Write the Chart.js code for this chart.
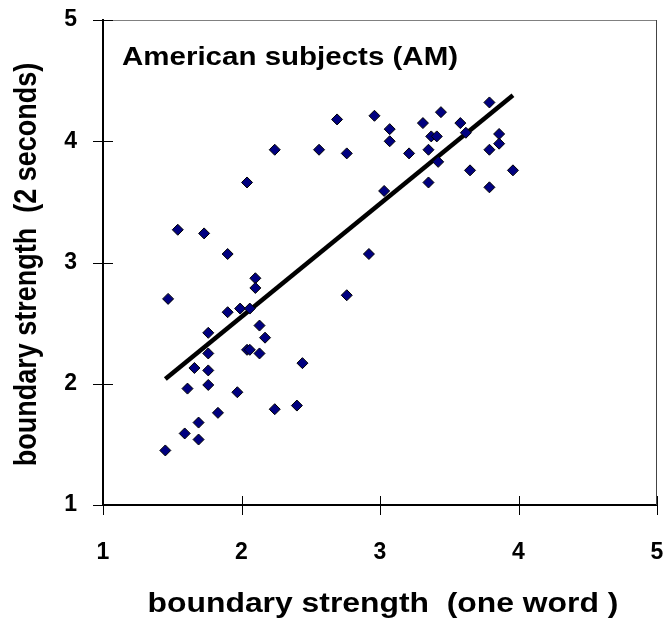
<!DOCTYPE html>
<html>
<head>
<meta charset="utf-8">
<script src="https://cdn.jsdelivr.net/npm/chart.js@4/dist/chart.umd.min.js"></script>
<style>
  html, body { margin: 0; padding: 0; background: #fff; }
  #wrap { width: 670px; height: 628px; }
</style>
</head>
<body>
<div id="wrap"><canvas id="grafico" width="670" height="628"></canvas></div>
<script>
// boundary strength per item: one-word condition (x) vs 2-second condition (y)
const fuerzaUnaPalabra = [
  1.45, 1.47, 1.54, 1.59, 1.61, 1.66, 1.69, 1.69, 1.73, 1.76,
  1.76, 1.76, 1.76, 1.83, 1.90, 1.90, 1.97, 1.99, 2.04, 2.04,
  2.06, 2.06, 2.10, 2.10, 2.13, 2.13, 2.17, 2.24, 2.24, 2.40,
  2.44, 2.56, 2.69, 2.76, 2.76, 2.92, 2.96, 3.03, 3.07, 3.07,
  3.21, 3.31, 3.35, 3.35, 3.37, 3.41, 3.42, 3.44, 3.58, 3.62,
  3.65, 3.79, 3.79, 3.79, 3.86, 3.86, 3.96
];
const fuerzaDosSegundos = [
  1.45, 2.70, 3.27, 1.59, 1.96, 2.13, 1.68, 1.54, 3.24, 2.42,
  2.25, 2.11, 1.99, 1.76, 3.07, 2.59, 1.93, 2.62, 3.66, 2.28,
  2.28, 2.62, 2.87, 2.79, 2.48, 2.25, 2.38, 3.93, 1.79, 1.82,
  2.17, 3.93, 4.18, 3.90, 2.73, 3.07, 4.21, 3.59, 4.10, 4.00,
  3.90, 4.15, 3.93, 3.66, 4.04, 4.04, 3.83, 4.24, 4.15, 4.07,
  3.76, 4.32, 3.93, 3.62, 4.06, 3.98, 3.76
];

// linear trend line end points
const tendenciaX = [1.45, 3.96];
const tendenciaY = [2.04, 4.38];

const ticksEje = [1, 2, 3, 4, 5];
const tituloX = 'boundary strength  (one word )';
const tituloY = 'boundary strength  (2 seconds)';
const etiquetaGrupo = 'American subjects (AM)';

const puntos = fuerzaUnaPalabra.map((x, i) => ({ x: x, y: fuerzaDosSegundos[i] }));
const lineaTendencia = tendenciaX.map((x, i) => ({ x: x, y: tendenciaY[i] }));

const fuente = '"Liberation Sans", Arial, sans-serif';
const ensanche = 1.18; // the lettering is a bit wider than it is tall

function textoAncho(ctx, texto, x, y, tam, rot) {
  ctx.save();
  ctx.translate(x, y);
  if (rot) ctx.rotate(rot);
  ctx.scale(rot ? 1 : ensanche, rot ? ensanche : 1);
  ctx.font = 'bold ' + tam + 'px ' + fuente;
  ctx.fillText(texto, 0, 0);
  ctx.restore();
}

// cross ticks, top/right frame, axis titles and the group label
const marcoPlugin = {
  id: 'marco',
  afterDraw(chart) {
    const { ctx, chartArea, scales } = chart;
    ctx.save();
    ctx.strokeStyle = '#808080';
    ctx.lineWidth = 1;
    ctx.beginPath();
    ctx.moveTo(chartArea.left, chartArea.top + 0.5);
    ctx.lineTo(chartArea.right, chartArea.top + 0.5);
    ctx.stroke();
    ctx.strokeStyle = '#444';
    ctx.beginPath();
    ctx.moveTo(chartArea.right - 0.5, chartArea.top);
    ctx.lineTo(chartArea.right - 0.5, chartArea.bottom);
    ctx.stroke();

    ctx.strokeStyle = '#000';
    ctx.lineWidth = 1;
    ticksEje.forEach(v => {
      const px = Math.round(scales.x.getPixelForValue(v)) + 0.5;
      ctx.beginPath();
      ctx.moveTo(px, chartArea.bottom - 9);
      ctx.lineTo(px, chartArea.bottom + 10);
      ctx.stroke();
      const py = Math.round(scales.y.getPixelForValue(v)) + 0.5;
      ctx.beginPath();
      ctx.moveTo(chartArea.left - 10, py);
      ctx.lineTo(chartArea.left + 10, py);
      ctx.stroke();
    });

    ctx.fillStyle = '#000';
    ctx.textBaseline = 'middle';
    ctx.textAlign = 'left';
    textoAncho(ctx, etiquetaGrupo, chartArea.left + 19, chartArea.top + 38, 25, 0);

    ctx.textAlign = 'center';
    const cx = (chartArea.left + chartArea.right) / 2;
    textoAncho(ctx, tituloX, cx + 3, 605, 27, 0);
    const cy = (chartArea.top + chartArea.bottom) / 2;
    textoAncho(ctx, tituloY, 27, cy + 2, 27, -Math.PI / 2);
    ctx.restore();
  }
};

const ctx = document.getElementById('grafico').getContext('2d');
new Chart(ctx, {
  data: {
    datasets: [
      {
        type: 'scatter',
        data: puntos,
        pointStyle: 'rectRot',
        pointRadius: 5.5,
        pointHoverRadius: 5.5,
        backgroundColor: '#000080',
        borderColor: '#000',
        borderWidth: 1
      },
      {
        type: 'line',
        data: lineaTendencia,
        borderColor: '#000',
        borderWidth: 4.5,
        pointRadius: 0,
        fill: false
      }
    ]
  },
  options: {
    responsive: false,
    animation: false,
    events: [],
    layout: { padding: { left: 0, top: 20, right: 13, bottom: 0 } },
    plugins: { legend: { display: false }, tooltip: { enabled: false } },
    scales: {
      x: {
        type: 'linear',
        min: 1, max: 5,
        afterFit(scale) {
          scale.height = 123;
          scale.paddingLeft = 0;
          scale.paddingRight = 0;
        },
        afterBuildTicks(scale) { scale.ticks = ticksEje.map(v => ({ value: v })); },
        grid: { display: false, drawTicks: false },
        border: { display: true, color: '#000', width: 2 },
        ticks: {
          padding: 34,
          color: '#000',
          font: { family: fuente, size: 23, weight: 'bold' }
        }
      },
      y: {
        type: 'linear',
        min: 1, max: 5,
        afterFit(scale) {
          scale.width = 103;
          scale.paddingTop = 0;
          scale.paddingBottom = 0;
        },
        afterBuildTicks(scale) { scale.ticks = ticksEje.map(v => ({ value: v })); },
        grid: { display: false, drawTicks: false },
        border: { display: true, color: '#000', width: 2 },
        ticks: {
          padding: 26,
          color: '#000',
          font: { family: fuente, size: 23, weight: 'bold' }
        }
      }
    }
  },
  plugins: [marcoPlugin]
});
</script>
</body>
</html>
